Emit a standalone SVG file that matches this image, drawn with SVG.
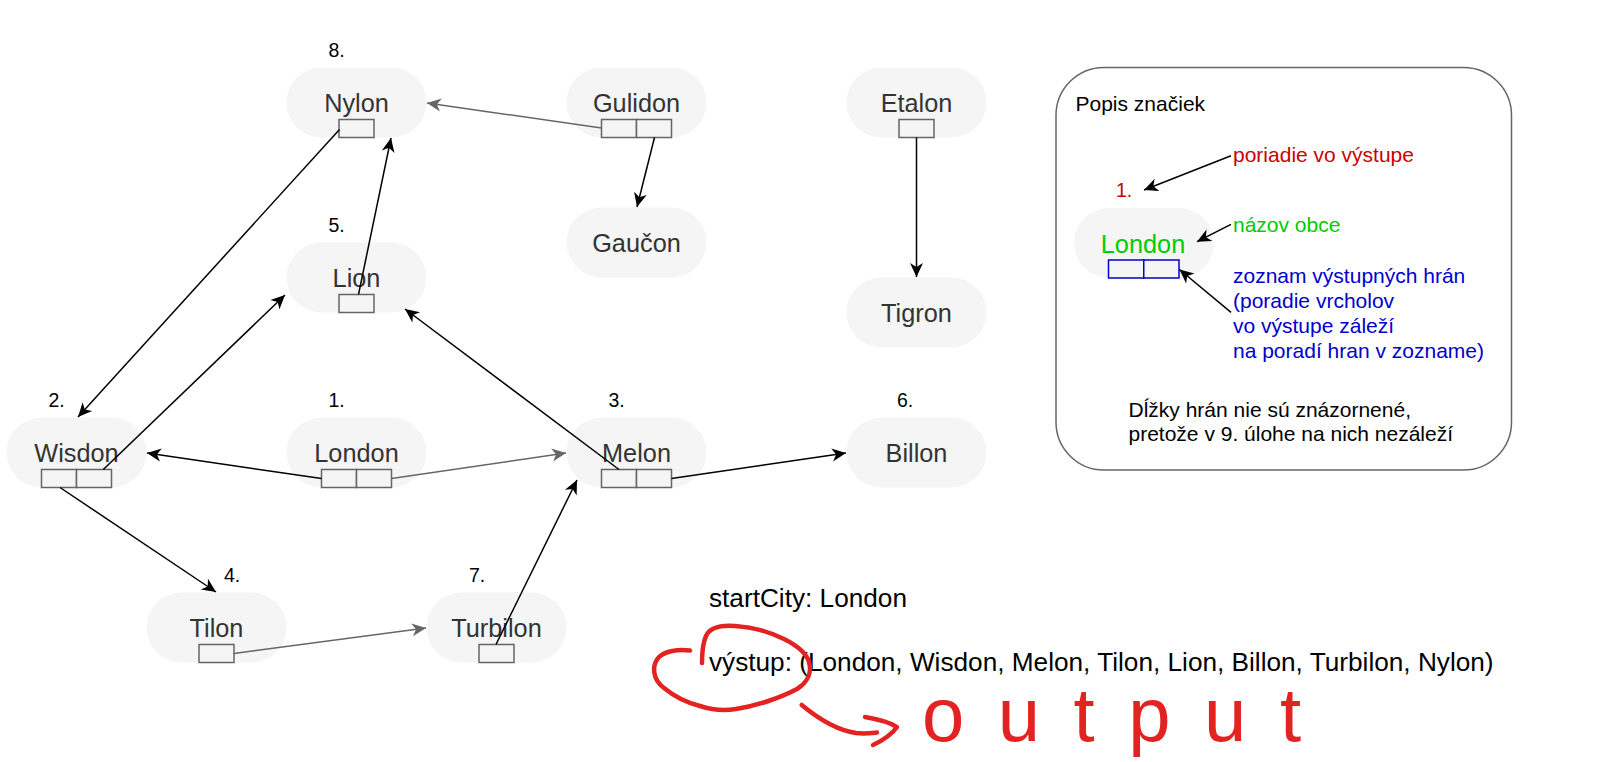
<svg xmlns="http://www.w3.org/2000/svg" width="1618" height="762" viewBox="0 0 1618 762">
<style>
.node{fill:#f5f5f5;stroke:none}
.cell{fill:#f5f5f5;stroke:#666;stroke-width:1.5}
.name{font-family:"Liberation Sans",Arial,sans-serif;font-size:25.3px;fill:#333;text-anchor:middle}
.ord{font-family:"Liberation Sans",Arial,sans-serif;font-size:19.5px;fill:#000}
.e{fill:none;stroke:#000;stroke-width:1.5;marker-end:url(#ab)}
.g{fill:none;stroke:#666;stroke-width:1.5;marker-end:url(#ag)}
.lg{font-family:"Liberation Sans",Arial,sans-serif;font-size:21px}
.bt{font-family:"Liberation Sans",Arial,sans-serif;font-size:26.2px;fill:#000}
.ink{fill:none;stroke:#E32222;stroke-width:4.5;stroke-linecap:round;stroke-linejoin:round}
</style>
<defs>
<marker id="ab" viewBox="0 0 16 14" refX="15" refY="7" markerWidth="16" markerHeight="14" markerUnits="userSpaceOnUse" orient="auto">
<path d="M1,0.5 L15,7 L1,13.5 L5,7 Z" fill="#000"/>
</marker>
<marker id="ag" viewBox="0 0 16 14" refX="15" refY="7" markerWidth="16" markerHeight="14" markerUnits="userSpaceOnUse" orient="auto">
<path d="M1,0.5 L15,7 L1,13.5 L5,7 Z" fill="#666"/>
</marker>
</defs>
<rect width="1618" height="762" fill="#fff"/>

<g id="node-nylon">
<rect class="node" x="286.5" y="67.5" width="140" height="70" rx="35"/>
<text class="name" x="356.5" y="112">Nylon</text>
<rect class="cell" x="339" y="119.5" width="35" height="18"/>
<text class="ord" x="328.5" y="57.3">8.</text>
</g>
<g id="node-gulidon">
<rect class="node" x="566.5" y="67.5" width="140" height="70" rx="35"/>
<text class="name" x="636.5" y="112">Gulidon</text>
<rect class="cell" x="601.5" y="119.5" width="35" height="18"/>
<rect class="cell" x="636.5" y="119.5" width="35" height="18"/>
</g>
<g id="node-etalon">
<rect class="node" x="846.5" y="67.5" width="140" height="70" rx="35"/>
<text class="name" x="916.5" y="112">Etalon</text>
<rect class="cell" x="899" y="119.5" width="35" height="18"/>
</g>
<g id="node-gaucon">
<rect class="node" x="566.5" y="207.5" width="140" height="70" rx="35"/>
<text class="name" x="636.5" y="252">Gaučon</text>
</g>
<g id="node-lion">
<rect class="node" x="286.5" y="242.5" width="140" height="70" rx="35"/>
<text class="name" x="356.5" y="287">Lion</text>
<rect class="cell" x="339" y="294.5" width="35" height="18"/>
<text class="ord" x="328.5" y="232.3">5.</text>
</g>
<g id="node-tigron">
<rect class="node" x="846.5" y="277.5" width="140" height="70" rx="35"/>
<text class="name" x="916.5" y="322">Tigron</text>
</g>
<g id="node-wisdon">
<rect class="node" x="6.5" y="417.5" width="140" height="70" rx="35"/>
<text class="name" x="76.5" y="462">Wisdon</text>
<rect class="cell" x="41.5" y="469.5" width="35" height="18"/>
<rect class="cell" x="76.5" y="469.5" width="35" height="18"/>
<text class="ord" x="48.5" y="407.3">2.</text>
</g>
<g id="node-london">
<rect class="node" x="286.5" y="417.5" width="140" height="70" rx="35"/>
<text class="name" x="356.5" y="462">London</text>
<rect class="cell" x="321.5" y="469.5" width="35" height="18"/>
<rect class="cell" x="356.5" y="469.5" width="35" height="18"/>
<text class="ord" x="328.5" y="407.3">1.</text>
</g>
<g id="node-melon">
<rect class="node" x="566.5" y="417.5" width="140" height="70" rx="35"/>
<text class="name" x="636.5" y="462">Melon</text>
<rect class="cell" x="601.5" y="469.5" width="35" height="18"/>
<rect class="cell" x="636.5" y="469.5" width="35" height="18"/>
<text class="ord" x="608.5" y="407.3">3.</text>
</g>
<g id="node-billon">
<rect class="node" x="846.5" y="417.5" width="140" height="70" rx="35"/>
<text class="name" x="916.5" y="462">Billon</text>
<text class="ord" x="897" y="407.3">6.</text>
</g>
<g id="node-tilon">
<rect class="node" x="146.5" y="592.5" width="140" height="70" rx="35"/>
<text class="name" x="216.5" y="637">Tilon</text>
<rect class="cell" x="199" y="644.5" width="35" height="18"/>
<text class="ord" x="224" y="582.3">4.</text>
</g>
<g id="node-turbilon">
<rect class="node" x="426.5" y="592.5" width="140" height="70" rx="35"/>
<text class="name" x="496.5" y="637">Turbilon</text>
<rect class="cell" x="479" y="644.5" width="35" height="18"/>
<text class="ord" x="469" y="582.3">7.</text>
</g>

<g id="connectors">
<path class="g" d="M601.5,128 L427,103"/>
<path class="e" d="M654.5,137.5 L637,207"/>
<path class="e" d="M916.5,137.5 L916.5,277"/>
<path class="e" d="M339.5,129.5 L78,417"/>
<path class="e" d="M103.3,469.5 L285,295"/>
<path class="e" d="M358.5,294.5 L391,138"/>
<path class="e" d="M619,469.5 L405,309"/>
<path class="e" d="M321.5,478.5 L147,453"/>
<path class="g" d="M391.5,478.5 L566,453"/>
<path class="e" d="M671.5,478.5 L846,453"/>
<path class="e" d="M60,487.5 L216,592"/>
<path class="g" d="M234,653.5 L426,628"/>
<path class="e" d="M496,644.5 L577,480"/>
</g>

<g id="legend">
<rect x="1056" y="67.5" width="455.5" height="402.5" rx="48" fill="#fff" stroke="#666" stroke-width="1.5"/>
<text class="lg" x="1075.5" y="110.7" fill="#000">Popis značiek</text>
<text class="lg" x="1233" y="161.7" fill="#CC0000">poriadie vo výstupe</text>
<text class="ord" x="1116" y="196.7" style="fill:#CC0000">1.</text>
<rect class="node" x="1074" y="208" width="140" height="70" rx="35"/>
<text class="name" x="1143" y="252.5" style="fill:#00CC00">London</text>
<rect x="1108.5" y="260" width="35.25" height="18" fill="#f5f5f5" stroke="#0000CC" stroke-width="1.5"/>
<rect x="1143.75" y="260" width="35.25" height="18" fill="#f5f5f5" stroke="#0000CC" stroke-width="1.5"/>
<text class="lg" x="1233" y="231.7" fill="#00CC00">názov obce</text>
<text class="lg" fill="#0000CC"><tspan x="1233" y="283.3">zoznam výstupných hrán</tspan><tspan x="1233" y="308.1">(poradie vrcholov</tspan><tspan x="1233" y="332.9">vo výstupe záleží</tspan><tspan x="1233" y="357.7">na poradí hran v zozname)</tspan></text>
<text class="lg" fill="#000"><tspan x="1128.5" y="417.3">Dĺžky hrán nie sú znázornené,</tspan><tspan x="1128.5" y="441">pretože v 9. úlohe na nich nezáleží</tspan></text>
<path class="e" d="M1231,155.7 L1144,190"/>
<path class="e" d="M1231,224.3 L1197,241.7"/>
<path class="e" d="M1231,312.3 L1179.5,269.5"/>
</g>

<g id="bottom-text">
<text class="bt" x="709" y="607">startCity: London</text>
<text class="bt" x="709" y="670.5">výstup: (London, Wisdon, Melon, Tilon, Lion, Billon, Turbilon, Nylon)</text>
</g>

<g id="annotation">
<path class="ink" d="M690,650.5 C678,649 665,651 659,657 C651,666 653,680 664,688 C675,697 688,703 700,706 C712,710 724,711 736,709 C756,706 780,698 797,689 C808,682 812,672 809,662 C806,652 796,645 784,639 C770,632 752,627 735,626 C722,625 710,627 706,636 C702,645 702,655 702,663"/>
<path class="ink" d="M801.7,705 C815,716 835,730 856,733 C865,734 872,733 877,732.5"/>
<path class="ink" d="M865,717 Q888,721 897,727 Q890,737 873,745"/>
<text x="922" y="741" font-family="Liberation Sans, Arial, sans-serif" font-size="76" fill="#E32222" textLength="379" lengthAdjust="spacing">output</text>
</g>
</svg>
